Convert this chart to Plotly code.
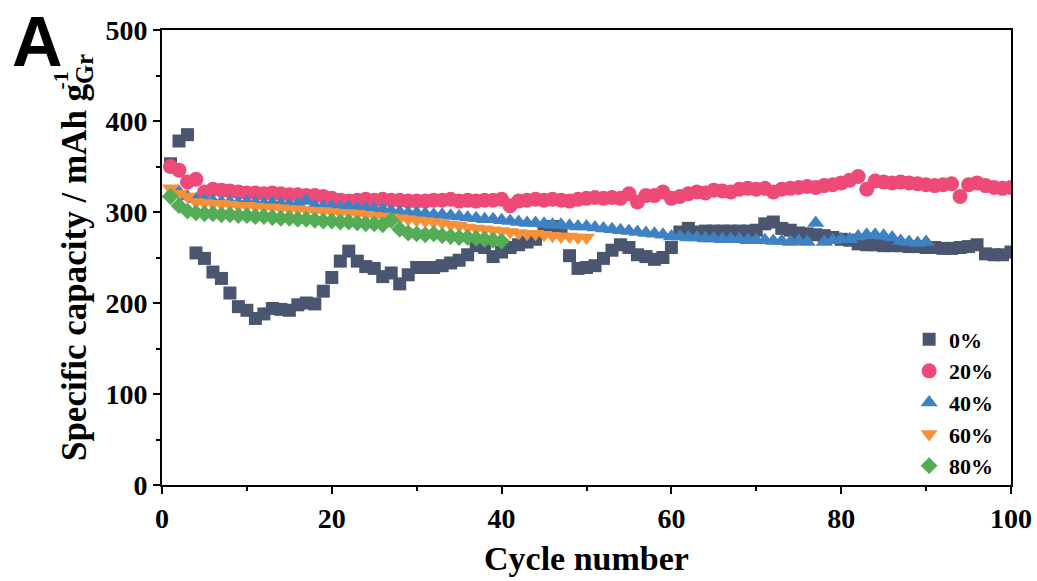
import plotly.graph_objects as go

cycles_0 = list(range(1, 101))
cap_0 = [353, 378, 385, 255, 249, 234, 227, 211, 196, 192,
         183, 188, 194, 193, 192, 198, 200, 199, 213, 228,
         246, 257, 246, 240, 238, 229, 233, 221, 231, 239,
         239, 239, 241, 244, 247, 253, 263, 261, 251, 256,
         261, 264, 267, 270, 282, 284, 278, 252, 238, 239,
         241, 249, 258, 264, 261, 253, 251, 248, 250, 261,
         278, 282, 278, 279, 279, 279, 279, 279, 279, 280,
         287, 289, 282, 280, 277, 276, 275, 274, 272, 270,
         269, 265, 264, 264, 263, 263, 263, 262, 262, 261,
         261, 260, 260, 261, 262, 264, 254, 253, 253, 256]

cycles_20 = list(range(1, 101))
cap_20 = [350, 346, 333, 336, 322, 325, 324, 323, 322, 321,
          321, 320, 321, 320, 319, 319, 318, 318, 317, 315,
          313, 312, 313, 314, 313, 314, 313, 313, 312, 312,
          312, 313, 313, 314, 312, 313, 312, 313, 313, 314,
          307, 312, 313, 314, 313, 314, 313, 312, 314, 315,
          316, 315, 316, 315, 320, 311, 318, 318, 322, 315,
          317, 320, 322, 321, 324, 323, 322, 325, 326, 325,
          326, 322, 325, 326, 327, 328, 327, 329, 330, 332,
          335, 339, 325, 334, 333, 332, 333, 332, 331, 330,
          329, 330, 331, 317, 330, 332, 329, 327, 326, 327]

cycles_40 = list(range(1, 91))
cap_40 = [320, 322, 317, 314, 313, 312, 311, 311, 310, 311,
          310, 309, 310, 309, 308, 309, 312, 307, 306, 306,
          305, 306, 304, 304, 303, 303, 301, 300, 299, 299,
          298, 297, 297, 296, 295, 294, 293, 292, 292, 291,
          290, 289, 288, 288, 287, 286, 286, 285, 284, 284,
          283, 282, 281, 280, 279, 278, 277, 276, 275, 273,
          273, 272, 272, 271, 271, 270, 270, 270, 269, 269,
          269, 268, 268, 267, 268, 267, 288, 267, 269, 270,
          270, 273, 275, 275, 274, 272, 268, 267, 266, 267]

cycles_60 = list(range(1, 51))
cap_60 = [326, 320, 317, 311, 310, 309, 309, 308, 307, 307,
          306, 305, 305, 304, 303, 303, 302, 301, 301, 300,
          299, 299, 298, 297, 296, 295, 294, 293, 292, 291,
          290, 289, 288, 286, 285, 283, 282, 281, 280, 279,
          278, 277, 276, 276, 275, 274, 273, 273, 272, 272]

cycles_80 = list(range(1, 41))
cap_80 = [317, 307, 301, 299, 298, 298, 297, 297, 296, 296,
          295, 295, 294, 293, 293, 292, 292, 291, 290, 290,
          289, 289, 288, 287, 287, 286, 291, 281, 277, 276,
          275, 276, 274, 273, 272, 272, 271, 270, 269, 268]

series = [
    ("0%", cycles_0, cap_0, "square", "#4a5670", 13),
    ("20%", cycles_20, cap_20, "circle", "#ee4a78", 15),
    ("40%", cycles_40, cap_40, "triangle-up", "#3f82c3", 15),
    ("60%", cycles_60, cap_60, "triangle-down", "#f6913a", 15),
    ("80%", cycles_80, cap_80, "diamond", "#55ac57", 13),
]

FONT = "Liberation Serif, Times New Roman, serif"

fig = go.Figure()
for name, x, y, sym, col, sz in series:
    fig.add_trace(go.Scatter(
        x=x, y=y, mode="markers", name=name,
        marker=dict(symbol=sym, color=col, size=sz, line=dict(width=0)),
    ))

fig.update_layout(
    width=1037, height=581,
    margin=dict(l=162, r=26, t=30, b=96, autoexpand=False),
    paper_bgcolor="white", plot_bgcolor="white",
    font=dict(family=FONT, color="black", size=28, weight="bold"),
    showlegend=True,
    legend=dict(
        x=0.88, y=0.366, xanchor="left", yanchor="top",
        bgcolor="rgba(0,0,0,0)", borderwidth=0,
        font=dict(family=FONT, size=22, color="black", weight="bold"),
        itemsizing="trace", tracegroupgap=0,
    ),
    annotations=[
        dict(text="A", x=-0.1466, y=0.9736, xref="paper", yref="paper", showarrow=False,
             xanchor="center", yanchor="middle",
             font=dict(family="Liberation Sans, Arial, sans-serif", size=70, color="black", weight="bold")),
        # superscript of the unit, stacked above the "Gr" subscript
        dict(text="-1", x=-0.119, y=0.889, xref="paper", yref="paper", showarrow=False,
             xanchor="center", yanchor="middle", textangle=-90,
             font=dict(family=FONT, size=22, color="black", weight="bold")),
    ],
)

fig.update_xaxes(
    range=[0, 100], dtick=20, tick0=0, automargin=False,
    showline=True, linecolor="black", linewidth=2, mirror=True,
    ticks="outside", ticklen=7, tickwidth=2, tickcolor="black",
    minor=dict(ticks="outside", dtick=10, ticklen=4, tickwidth=1.5, tickcolor="black"),
    showgrid=False, zeroline=False,
    tickfont=dict(family=FONT, size=28, weight="bold"),
    title=dict(text="Cycle number", font=dict(family=FONT, size=34, weight="bold"), standoff=14),
)
fig.update_yaxes(
    range=[0, 500], dtick=100, tick0=0, automargin=False,
    showline=True, linecolor="black", linewidth=2, mirror=True,
    ticks="outside", ticklen=7, tickwidth=2, tickcolor="black",
    minor=dict(ticks="outside", dtick=50, ticklen=4, tickwidth=1.5, tickcolor="black"),
    showgrid=False, zeroline=False,
    tickfont=dict(family=FONT, size=28, weight="bold"),
    title=dict(text="Specific capacity / mAh g<sub>Gr</sub>",
               font=dict(family=FONT, size=35, weight="bold"), standoff=8),
)

fig.write_html("out.html", config={"displayModeBar": False},
               post_script="document.body.style.margin='0';")
